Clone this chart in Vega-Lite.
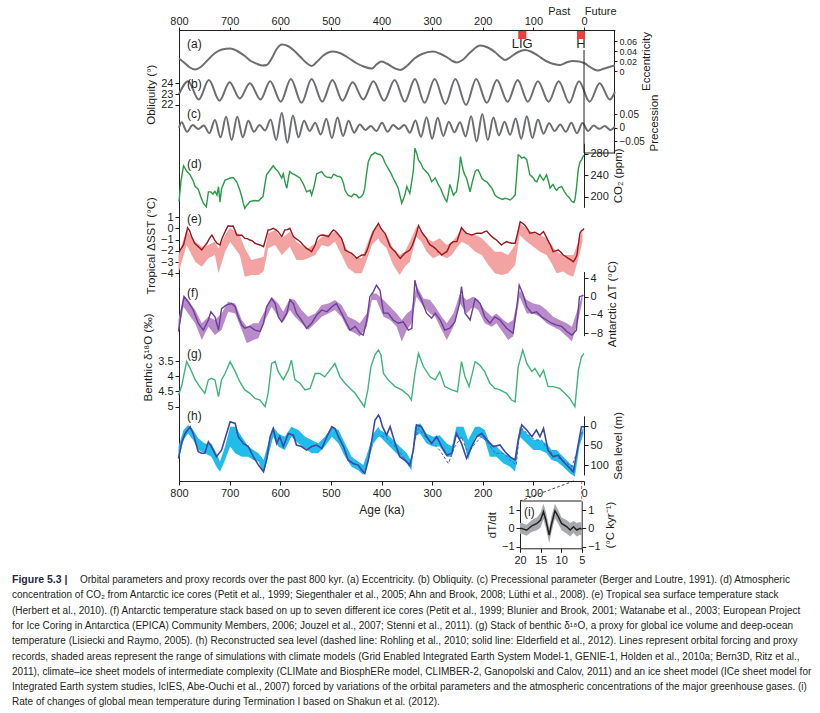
{
"$schema":"https://vega.github.io/schema/vega-lite/v6.json",
"width":405,"height":451,
"padding":{"left":179,"top":30,"right":236,"bottom":232},
"autosize":{"type":"none"},
"background":"white",
"config":{"view":{"stroke":null},"font":"Liberation Sans",
 "axis":{"labelFont":"Liberation Sans","titleFont":"Liberation Sans","labelFontSize":11,"titleFontSize":11.5,"titleFontWeight":"normal","labelColor":"#231f20","titleColor":"#231f20","domainColor":"#231f20","tickColor":"#231f20","grid":false,"tickSize":4,"labelPadding":2,"titlePadding":4,"labelFlush":false,"labelOverlap":false}},
"datasets":{
"captionHead":[{"t":"Figure 5.3 |","line":1}],
"captionFirst":[{"t":"Orbital parameters and proxy records over the past 800 kyr. (a) Eccentricity. (b) Obliquity. (c) Precessional parameter (Berger and Loutre, 1991). (d) Atmospheric","line":1}],
"caption":[
{"line":2,"t":"concentration of CO₂ from Antarctic ice cores (Petit et al., 1999; Siegenthaler et al., 2005; Ahn and Brook, 2008; Lüthi et al., 2008). (e) Tropical sea surface temperature stack"},
{"line":3,"t":"(Herbert et al., 2010). (f) Antarctic temperature stack based on up to seven different ice cores (Petit et al., 1999; Blunier and Brook, 2001; Watanabe et al., 2003; European Project"},
{"line":4,"t":"for Ice Coring in Antarctica (EPICA) Community Members, 2006; Jouzel et al., 2007; Stenni et al., 2011). (g) Stack of benthic δ¹⁸O, a proxy for global ice volume and deep-ocean"},
{"line":5,"t":"temperature (Lisiecki and Raymo, 2005). (h) Reconstructed sea level (dashed line: Rohling et al., 2010; solid line: Elderfield et al., 2012). Lines represent orbital forcing and proxy"},
{"line":6,"t":"records, shaded areas represent the range of simulations with climate models (Grid Enabled Integrated Earth System Model-1, GENIE-1, Holden et al., 2010a; Bern3D, Ritz et al.,"},
{"line":7,"t":"2011), climate–ice sheet models of intermediate complexity (CLIMate and BiosphERe model, CLIMBER-2, Ganopolski and Calov, 2011) and an ice sheet model (ICe sheet model for"},
{"line":8,"t":"Integrated Earth system studies, IcIES, Abe-Ouchi et al., 2007) forced by variations of the orbital parameters and the atmospheric concentrations of the major greenhouse gases. (i)"},
{"line":9,"t":"Rate of changes of global mean temperature during Termination I based on Shakun et al. (2012)."}],
"ecc":[{"age":800,"v":0.025},{"age":790,"v":0.017},{"age":780,"v":0.008},{"age":768,"v":0.003},{"age":757,"v":0.008},{"age":745,"v":0.02},{"age":730,"v":0.035},{"age":715,"v":0.043},{"age":699,"v":0.045},{"age":685,"v":0.04},{"age":670,"v":0.03},{"age":658,"v":0.02},{"age":645,"v":0.014},{"age":635,"v":0.011},{"age":627,"v":0.012},{"age":617,"v":0.025},{"age":607,"v":0.044},{"age":597,"v":0.053},{"age":585,"v":0.05},{"age":572,"v":0.04},{"age":560,"v":0.028},{"age":548,"v":0.016},{"age":538,"v":0.01},{"age":528,"v":0.018},{"age":515,"v":0.031},{"age":496,"v":0.039},{"age":480,"v":0.035},{"age":465,"v":0.026},{"age":450,"v":0.016},{"age":435,"v":0.009},{"age":419,"v":0.005},{"age":409,"v":0.014},{"age":400,"v":0.019},{"age":390,"v":0.015},{"age":375,"v":0.006},{"age":363,"v":0.002},{"age":350,"v":0.01},{"age":335,"v":0.025},{"age":320,"v":0.034},{"age":298,"v":0.039},{"age":285,"v":0.035},{"age":270,"v":0.027},{"age":260,"v":0.02},{"age":251,"v":0.017},{"age":240,"v":0.022},{"age":225,"v":0.037},{"age":205,"v":0.051},{"age":190,"v":0.047},{"age":175,"v":0.037},{"age":165,"v":0.028},{"age":156,"v":0.022},{"age":145,"v":0.028},{"age":130,"v":0.038},{"age":117,"v":0.042},{"age":105,"v":0.039},{"age":90,"v":0.03},{"age":75,"v":0.02},{"age":60,"v":0.014},{"age":47,"v":0.012},{"age":35,"v":0.017},{"age":22,"v":0.02},{"age":10,"v":0.019},{"age":0,"v":0.016},{"age":-12,"v":0.008},{"age":-27,"v":0.001},{"age":-40,"v":0.005},{"age":-50,"v":0.008},{"age":-61,"v":0.011}],
"obl":[{"age":800,"v":23.0},{"age":782,"v":24.2},{"age":761,"v":22.5},{"age":741,"v":24.3},{"age":720,"v":22.4},{"age":700,"v":24.1},{"age":680,"v":22.6},{"age":660,"v":24.0},{"age":639,"v":22.5},{"age":620,"v":24.2},{"age":599,"v":22.3},{"age":579,"v":24.4},{"age":558,"v":22.2},{"age":538,"v":24.4},{"age":517,"v":22.3},{"age":497,"v":24.3},{"age":477,"v":22.4},{"age":457,"v":24.1},{"age":436,"v":22.5},{"age":416,"v":24.2},{"age":395,"v":22.4},{"age":374,"v":24.3},{"age":354,"v":22.3},{"age":334,"v":24.4},{"age":315,"v":22.2},{"age":295,"v":24.4},{"age":274,"v":22.1},{"age":254,"v":24.4},{"age":233,"v":22.0},{"age":213,"v":24.4},{"age":192,"v":22.2},{"age":172,"v":24.3},{"age":151,"v":22.3},{"age":131,"v":24.3},{"age":111,"v":22.3},{"age":91,"v":24.2},{"age":70,"v":22.3},{"age":50,"v":24.2},{"age":29,"v":22.2},{"age":10,"v":24.2},{"age":-11,"v":22.3},{"age":-31,"v":24.0},{"age":-51,"v":22.5},{"age":-61,"v":23.2}],
"prec":[{"age":800,"v":0.0},{"age":795,"v":0.02},{"age":784,"v":-0.015},{"age":773,"v":0.01},{"age":762,"v":-0.005},{"age":751,"v":0.008},{"age":740,"v":-0.02},{"age":729,"v":0.028},{"age":718,"v":-0.035},{"age":707,"v":0.04},{"age":696,"v":-0.045},{"age":685,"v":0.04},{"age":674,"v":-0.035},{"age":663,"v":0.025},{"age":652,"v":-0.015},{"age":641,"v":0.01},{"age":630,"v":-0.01},{"age":619,"v":0.03},{"age":608,"v":-0.045},{"age":597,"v":0.055},{"age":586,"v":-0.055},{"age":575,"v":0.045},{"age":564,"v":-0.035},{"age":553,"v":0.025},{"age":542,"v":-0.012},{"age":531,"v":0.018},{"age":520,"v":-0.025},{"age":509,"v":0.033},{"age":498,"v":-0.038},{"age":487,"v":0.037},{"age":476,"v":-0.03},{"age":465,"v":0.025},{"age":454,"v":-0.018},{"age":443,"v":0.012},{"age":432,"v":-0.008},{"age":421,"v":0.006},{"age":410,"v":-0.012},{"age":399,"v":0.018},{"age":388,"v":-0.015},{"age":377,"v":0.01},{"age":366,"v":-0.005},{"age":355,"v":0.01},{"age":344,"v":-0.018},{"age":333,"v":0.026},{"age":322,"v":-0.033},{"age":311,"v":0.038},{"age":300,"v":-0.04},{"age":289,"v":0.036},{"age":278,"v":-0.03},{"age":267,"v":0.022},{"age":256,"v":-0.017},{"age":245,"v":0.02},{"age":234,"v":-0.032},{"age":223,"v":0.042},{"age":212,"v":-0.05},{"age":201,"v":0.05},{"age":190,"v":-0.045},{"age":179,"v":0.037},{"age":168,"v":-0.028},{"age":157,"v":0.022},{"age":146,"v":-0.026},{"age":135,"v":0.034},{"age":124,"v":-0.04},{"age":113,"v":0.042},{"age":102,"v":-0.038},{"age":91,"v":0.03},{"age":80,"v":-0.022},{"age":69,"v":0.016},{"age":58,"v":-0.012},{"age":47,"v":0.012},{"age":36,"v":-0.015},{"age":25,"v":0.018},{"age":14,"v":-0.02},{"age":3,"v":0.017},{"age":-8,"v":-0.012},{"age":-19,"v":0.008},{"age":-30,"v":-0.004},{"age":-41,"v":0.006},{"age":-52,"v":-0.008},{"age":-61,"v":0.005}],
"co2":[{"age":800,"v":191},{"age":796,"v":230},{"age":791,"v":258},{"age":785,"v":248},{"age":778,"v":241},{"age":772,"v":230},{"age":768,"v":219},{"age":762,"v":214},{"age":757,"v":200},{"age":752,"v":188},{"age":746,"v":181},{"age":742,"v":209},{"age":737,"v":209},{"age":733,"v":205},{"age":729,"v":210},{"age":725,"v":203},{"age":722,"v":219},{"age":719,"v":190},{"age":716,"v":215},{"age":709,"v":231},{"age":704,"v":233},{"age":699,"v":235},{"age":693,"v":236},{"age":686,"v":228},{"age":680,"v":213},{"age":676,"v":200},{"age":673,"v":188},{"age":670,"v":178},{"age":665,"v":185},{"age":660,"v":191},{"age":652,"v":193},{"age":643,"v":192},{"age":638,"v":197},{"age":634,"v":200},{"age":630,"v":225},{"age":627,"v":241},{"age":620,"v":250},{"age":614,"v":258},{"age":609,"v":252},{"age":604,"v":247},{"age":597,"v":235},{"age":594,"v":243},{"age":590,"v":225},{"age":587,"v":216},{"age":583,"v":240},{"age":581,"v":247},{"age":576,"v":243},{"age":571,"v":241},{"age":566,"v":238},{"age":561,"v":235},{"age":557,"v":228},{"age":554,"v":223},{"age":550,"v":214},{"age":548,"v":209},{"age":541,"v":212},{"age":538,"v":203},{"age":533,"v":220},{"age":528,"v":243},{"age":523,"v":245},{"age":518,"v":247},{"age":513,"v":240},{"age":509,"v":237},{"age":503,"v":236},{"age":499,"v":235},{"age":495,"v":242},{"age":492,"v":241},{"age":487,"v":238},{"age":483,"v":238},{"age":479,"v":235},{"age":475,"v":225},{"age":472,"v":212},{"age":469,"v":207},{"age":466,"v":203},{"age":462,"v":201},{"age":459,"v":200},{"age":455,"v":205},{"age":449,"v":203},{"age":445,"v":198},{"age":440,"v":200},{"age":436,"v":205},{"age":433,"v":216},{"age":430,"v":240},{"age":426,"v":266},{"age":420,"v":278},{"age":416,"v":280},{"age":413,"v":283},{"age":408,"v":280},{"age":403,"v":279},{"age":398,"v":275},{"age":393,"v":263},{"age":387,"v":253},{"age":382,"v":245},{"age":377,"v":235},{"age":372,"v":226},{"age":367,"v":216},{"age":363,"v":200},{"age":360,"v":188},{"age":357,"v":195},{"age":354,"v":203},{"age":350,"v":219},{"age":347,"v":212},{"age":344,"v":206},{"age":340,"v":230},{"age":337,"v":250},{"age":334,"v":291},{"age":330,"v":280},{"age":327,"v":269},{"age":322,"v":262},{"age":318,"v":253},{"age":313,"v":248},{"age":308,"v":243},{"age":304,"v":236},{"age":301,"v":228},{"age":297,"v":232},{"age":294,"v":235},{"age":291,"v":230},{"age":288,"v":223},{"age":283,"v":215},{"age":278,"v":203},{"age":274,"v":195},{"age":271,"v":191},{"age":268,"v":205},{"age":265,"v":223},{"age":262,"v":215},{"age":258,"v":203},{"age":255,"v":207},{"age":252,"v":209},{"age":247,"v":240},{"age":244,"v":275},{"age":241,"v":260},{"age":238,"v":247},{"age":235,"v":240},{"age":232,"v":235},{"age":228,"v":220},{"age":225,"v":209},{"age":220,"v":230},{"age":215,"v":247},{"age":212,"v":250},{"age":209,"v":250},{"age":205,"v":242},{"age":202,"v":235},{"age":197,"v":230},{"age":192,"v":228},{"age":187,"v":222},{"age":182,"v":216},{"age":179,"v":210},{"age":176,"v":203},{"age":171,"v":199},{"age":166,"v":197},{"age":161,"v":195},{"age":156,"v":197},{"age":151,"v":196},{"age":146,"v":194},{"age":141,"v":198},{"age":136,"v":203},{"age":133,"v":240},{"age":130,"v":278},{"age":127,"v":277},{"age":123,"v":272},{"age":118,"v":274},{"age":113,"v":269},{"age":110,"v":255},{"age":107,"v":241},{"age":103,"v":238},{"age":100,"v":235},{"age":97,"v":230},{"age":93,"v":228},{"age":90,"v":235},{"age":87,"v":241},{"age":84,"v":236},{"age":80,"v":231},{"age":77,"v":236},{"age":74,"v":241},{"age":70,"v":228},{"age":67,"v":216},{"age":64,"v":220},{"age":61,"v":223},{"age":57,"v":215},{"age":54,"v":212},{"age":50,"v":217},{"age":44,"v":219},{"age":39,"v":210},{"age":34,"v":203},{"age":29,"v":198},{"age":24,"v":191},{"age":20,"v":189},{"age":18,"v":194},{"age":15,"v":215},{"age":12,"v":245},{"age":11,"v":253},{"age":8,"v":265},{"age":5,"v":269},{"age":2,"v":275},{"age":0,"v":278}],
"sst":[{"age":800,"v":-2.1},{"age":796,"v":-1.8},{"age":791,"v":-1.47},{"age":786,"v":-0.5},{"age":783,"v":0.07},{"age":779,"v":-0.2},{"age":775,"v":-0.73},{"age":769,"v":-1.32},{"age":762,"v":-1.6},{"age":755,"v":-1.92},{"age":750,"v":-1.6},{"age":745,"v":-1.32},{"age":740,"v":-0.9},{"age":735,"v":-0.58},{"age":730,"v":-1.0},{"age":725,"v":-1.32},{"age":719,"v":-1.47},{"age":716,"v":-1.0},{"age":712,"v":-0.58},{"age":707,"v":-0.1},{"age":703,"v":0.25},{"age":697,"v":0.2},{"age":693,"v":0.22},{"age":690,"v":-0.1},{"age":686,"v":-0.58},{"age":680,"v":-0.6},{"age":676,"v":-0.58},{"age":670,"v":-0.88},{"age":665,"v":-0.9},{"age":660,"v":-1.03},{"age":655,"v":-1.1},{"age":650,"v":-1.32},{"age":645,"v":-1.4},{"age":640,"v":-1.47},{"age":633,"v":-1.62},{"age":628,"v":-0.8},{"age":624,"v":-0.13},{"age":619,"v":-0.1},{"age":614,"v":0.02},{"age":609,"v":-0.1},{"age":604,"v":-0.28},{"age":597,"v":-0.73},{"age":591,"v":-0.13},{"age":586,"v":-0.1},{"age":581,"v":0.02},{"age":578,"v":-0.3},{"age":574,"v":-0.73},{"age":569,"v":-0.9},{"age":565,"v":-1.03},{"age":560,"v":-1.2},{"age":555,"v":-1.47},{"age":548,"v":-1.77},{"age":543,"v":-1.9},{"age":538,"v":-2.07},{"age":535,"v":-1.8},{"age":531,"v":-1.47},{"age":528,"v":-1.0},{"age":525,"v":-0.73},{"age":520,"v":-0.6},{"age":515,"v":-0.58},{"age":510,"v":-0.65},{"age":505,"v":-0.73},{"age":500,"v":-0.4},{"age":495,"v":-0.13},{"age":492,"v":-0.2},{"age":489,"v":-0.33},{"age":484,"v":-0.6},{"age":479,"v":-0.88},{"age":475,"v":-1.4},{"age":472,"v":-1.92},{"age":466,"v":-2.07},{"age":459,"v":-2.22},{"age":454,"v":-2.4},{"age":449,"v":-2.67},{"age":444,"v":-2.5},{"age":439,"v":-2.37},{"age":433,"v":-2.37},{"age":429,"v":-2.0},{"age":426,"v":-1.62},{"age":421,"v":-0.9},{"age":416,"v":-0.28},{"age":411,"v":0.1},{"age":406,"v":0.46},{"age":401,"v":0.0},{"age":396,"v":-0.28},{"age":393,"v":-0.43},{"age":388,"v":-1.0},{"age":383,"v":-1.62},{"age":378,"v":-1.85},{"age":373,"v":-2.07},{"age":368,"v":-2.4},{"age":363,"v":-2.67},{"age":358,"v":-2.4},{"age":354,"v":-2.22},{"age":349,"v":-2.07},{"age":344,"v":-1.92},{"age":339,"v":-1.5},{"age":334,"v":-0.88},{"age":330,"v":-0.3},{"age":327,"v":0.25},{"age":324,"v":0.0},{"age":321,"v":-0.28},{"age":316,"v":-0.6},{"age":311,"v":-0.88},{"age":308,"v":-1.2},{"age":304,"v":-1.47},{"age":299,"v":-1.6},{"age":294,"v":-1.77},{"age":291,"v":-1.9},{"age":288,"v":-2.07},{"age":284,"v":-2.2},{"age":281,"v":-2.37},{"age":276,"v":-2.2},{"age":271,"v":-2.07},{"age":268,"v":-1.8},{"age":265,"v":-1.47},{"age":262,"v":-1.3},{"age":258,"v":-1.17},{"age":251,"v":-1.17},{"age":247,"v":-0.6},{"age":242,"v":0.07},{"age":237,"v":-0.2},{"age":232,"v":-0.43},{"age":227,"v":-0.5},{"age":222,"v":-0.58},{"age":217,"v":-0.5},{"age":212,"v":-0.43},{"age":207,"v":-0.43},{"age":202,"v":-0.43},{"age":197,"v":-0.3},{"age":192,"v":-0.22},{"age":187,"v":-0.5},{"age":182,"v":-0.73},{"age":177,"v":-0.9},{"age":173,"v":-1.03},{"age":168,"v":-1.25},{"age":163,"v":-1.47},{"age":158,"v":-1.3},{"age":153,"v":-1.17},{"age":148,"v":-1.25},{"age":143,"v":-1.32},{"age":136,"v":-1.32},{"age":131,"v":-0.4},{"age":126,"v":0.61},{"age":121,"v":0.45},{"age":117,"v":0.31},{"age":112,"v":0.0},{"age":107,"v":-0.43},{"age":102,"v":-0.38},{"age":97,"v":-0.33},{"age":92,"v":-0.45},{"age":87,"v":-0.58},{"age":83,"v":-0.4},{"age":80,"v":-0.28},{"age":75,"v":-0.7},{"age":70,"v":-1.17},{"age":65,"v":-1.6},{"age":61,"v":-2.07},{"age":56,"v":-2.0},{"age":51,"v":-1.92},{"age":46,"v":-2.1},{"age":41,"v":-2.37},{"age":36,"v":-2.5},{"age":31,"v":-2.67},{"age":26,"v":-2.8},{"age":21,"v":-2.97},{"age":17,"v":-2.7},{"age":14,"v":-2.37},{"age":11,"v":-1.4},{"age":8,"v":-0.43},{"age":5,"v":-0.2},{"age":2,"v":-0.13},{"age":0,"v":0.0}],
"sstBand":[{"age":801,"hi":-2.37,"lo":-4.0},{"age":785,"hi":-0.13,"lo":-1.47},{"age":768,"hi":-1.18,"lo":-2.96},{"age":755,"hi":-1.62,"lo":-3.41},{"age":742,"hi":-1.47,"lo":-2.66},{"age":729,"hi":-1.18,"lo":-2.37},{"age":722,"hi":-1.77,"lo":-4.0},{"age":709,"hi":-0.58,"lo":-2.07},{"age":699,"hi":0.07,"lo":-1.18},{"age":680,"hi":-0.58,"lo":-2.37},{"age":670,"hi":-1.77,"lo":-4.3},{"age":657,"hi":-2.81,"lo":-4.15},{"age":643,"hi":-2.66,"lo":-4.15},{"age":633,"hi":-2.52,"lo":-3.85},{"age":624,"hi":-0.43,"lo":-1.77},{"age":610,"hi":-0.13,"lo":-1.47},{"age":597,"hi":-0.88,"lo":-2.37},{"age":581,"hi":-0.28,"lo":-1.62},{"age":568,"hi":-1.18,"lo":-2.81},{"age":554,"hi":-1.62,"lo":-2.81},{"age":545,"hi":-1.77,"lo":-2.66},{"age":531,"hi":-1.32,"lo":-2.37},{"age":518,"hi":-0.73,"lo":-1.47},{"age":505,"hi":-0.58,"lo":-1.62},{"age":492,"hi":-0.28,"lo":-1.18},{"age":479,"hi":-0.88,"lo":-2.37},{"age":466,"hi":-2.07,"lo":-3.56},{"age":452,"hi":-2.52,"lo":-4.0},{"age":439,"hi":-2.66,"lo":-4.0},{"age":429,"hi":-1.47,"lo":-2.81},{"age":419,"hi":-0.28,"lo":-1.47},{"age":406,"hi":0.31,"lo":-0.88},{"age":403,"hi":0.0,"lo":-1.18},{"age":390,"hi":-0.58,"lo":-1.77},{"age":377,"hi":-1.77,"lo":-3.26},{"age":364,"hi":-2.37,"lo":-4.15},{"age":354,"hi":-2.07,"lo":-3.41},{"age":344,"hi":-1.18,"lo":-2.96},{"age":331,"hi":0.16,"lo":-0.73},{"age":321,"hi":-0.28,"lo":-1.18},{"age":311,"hi":-0.88,"lo":-2.07},{"age":298,"hi":-1.18,"lo":-2.66},{"age":285,"hi":-0.88,"lo":-2.37},{"age":271,"hi":-1.47,"lo":-2.66},{"age":261,"hi":-1.18,"lo":-2.37},{"age":252,"hi":-0.73,"lo":-1.77},{"age":242,"hi":0.0,"lo":-1.18},{"age":229,"hi":-0.58,"lo":-1.47},{"age":215,"hi":-0.58,"lo":-2.07},{"age":202,"hi":-0.88,"lo":-2.37},{"age":189,"hi":-1.47,"lo":-3.26},{"age":176,"hi":-2.07,"lo":-4.0},{"age":163,"hi":-2.07,"lo":-4.15},{"age":150,"hi":-2.37,"lo":-4.0},{"age":136,"hi":-1.47,"lo":-3.26},{"age":127,"hi":0.46,"lo":-0.58},{"age":113,"hi":0.0,"lo":-1.18},{"age":100,"hi":-0.43,"lo":-1.62},{"age":87,"hi":-0.58,"lo":-2.07},{"age":74,"hi":-0.88,"lo":-2.37},{"age":64,"hi":-1.47,"lo":-3.11},{"age":54,"hi":-2.07,"lo":-4.0},{"age":41,"hi":-2.37,"lo":-3.85},{"age":31,"hi":-2.37,"lo":-4.15},{"age":21,"hi":-2.37,"lo":-4.3},{"age":11,"hi":-1.18,"lo":-2.66},{"age":3,"hi":-0.13,"lo":-1.18}],
"ant":[{"age":801,"v":-7.6},{"age":795,"v":-2.9},{"age":790,"v":0.0},{"age":782,"v":-1.1},{"age":772,"v":-2.9},{"age":762,"v":-5.8},{"age":752,"v":-7.3},{"age":742,"v":-5.1},{"age":737,"v":-3.3},{"age":729,"v":-4.4},{"age":722,"v":-7.3},{"age":716,"v":-2.6},{"age":706,"v":-1.8},{"age":696,"v":-1.5},{"age":689,"v":-2.2},{"age":683,"v":-4.4},{"age":676,"v":-6.2},{"age":670,"v":-6.9},{"age":660,"v":-6.5},{"age":650,"v":-7.3},{"age":640,"v":-7.6},{"age":633,"v":-5.8},{"age":627,"v":-2.2},{"age":617,"v":-0.4},{"age":610,"v":-1.5},{"age":604,"v":-4.4},{"age":597,"v":-5.5},{"age":587,"v":-3.6},{"age":581,"v":-0.7},{"age":574,"v":-1.5},{"age":568,"v":-3.6},{"age":558,"v":-5.1},{"age":548,"v":-6.9},{"age":538,"v":-5.8},{"age":528,"v":-4.0},{"age":518,"v":-2.9},{"age":508,"v":-3.3},{"age":498,"v":-2.2},{"age":489,"v":-1.5},{"age":479,"v":-3.6},{"age":469,"v":-5.8},{"age":462,"v":-7.3},{"age":452,"v":-6.5},{"age":442,"v":-8.0},{"age":436,"v":-8.4},{"age":429,"v":-5.1},{"age":423,"v":0.0},{"age":416,"v":1.1},{"age":410,"v":2.5},{"age":403,"v":1.4},{"age":396,"v":-3.6},{"age":387,"v":-3.6},{"age":377,"v":-5.1},{"age":367,"v":-5.8},{"age":357,"v":-5.5},{"age":347,"v":-7.3},{"age":340,"v":-6.9},{"age":334,"v":3.6},{"age":329,"v":1.1},{"age":321,"v":-0.7},{"age":311,"v":-3.6},{"age":301,"v":-4.7},{"age":294,"v":-3.6},{"age":284,"v":-5.1},{"age":275,"v":-7.3},{"age":265,"v":-6.9},{"age":255,"v":-5.5},{"age":246,"v":-1.5},{"age":242,"v":2.2},{"age":235,"v":-3.6},{"age":225,"v":-5.1},{"age":215,"v":-0.4},{"age":205,"v":-1.5},{"age":196,"v":-4.4},{"age":186,"v":-5.8},{"age":176,"v":-4.4},{"age":166,"v":-5.1},{"age":153,"v":-6.9},{"age":140,"v":-8.0},{"age":132,"v":-1.5},{"age":128,"v":2.5},{"age":121,"v":0.7},{"age":113,"v":-2.2},{"age":103,"v":-3.6},{"age":94,"v":-3.3},{"age":84,"v":-4.4},{"age":74,"v":-5.1},{"age":64,"v":-5.8},{"age":54,"v":-6.2},{"age":44,"v":-6.5},{"age":34,"v":-7.6},{"age":24,"v":-8.4},{"age":15,"v":-7.3},{"age":9,"v":0.0},{"age":1,"v":0.3}],
"antBand":[{"age":801,"hi":-5.1,"lo":-8.0},{"age":791,"hi":0.34,"lo":-2.2},{"age":782,"hi":-0.75,"lo":-3.65},{"age":768,"hi":-2.92,"lo":-5.82},{"age":755,"hi":-5.82,"lo":-9.44},{"age":742,"hi":-4.37,"lo":-6.54},{"age":729,"hi":-5.1,"lo":-8.36},{"age":716,"hi":-3.65,"lo":-7.27},{"age":703,"hi":-1.11,"lo":-3.28},{"age":689,"hi":-1.47,"lo":-3.65},{"age":676,"hi":-5.1,"lo":-7.27},{"age":666,"hi":-6.54,"lo":-10.17},{"age":653,"hi":-5.82,"lo":-9.44},{"age":643,"hi":-5.82,"lo":-9.08},{"age":630,"hi":-2.92,"lo":-5.1},{"age":617,"hi":-0.02,"lo":-2.2},{"age":604,"hi":-1.47,"lo":-4.37},{"age":594,"hi":-3.28,"lo":-5.46},{"age":581,"hi":-0.39,"lo":-2.92},{"age":571,"hi":-0.75,"lo":-4.37},{"age":558,"hi":-2.92,"lo":-5.82},{"age":545,"hi":-4.37,"lo":-7.27},{"age":531,"hi":-3.65,"lo":-5.82},{"age":518,"hi":-1.83,"lo":-4.37},{"age":505,"hi":-1.47,"lo":-3.65},{"age":492,"hi":-0.75,"lo":-2.92},{"age":479,"hi":-1.83,"lo":-4.37},{"age":466,"hi":-4.37,"lo":-7.27},{"age":452,"hi":-5.1,"lo":-8.0},{"age":443,"hi":-5.82,"lo":-8.72},{"age":429,"hi":-3.65,"lo":-6.54},{"age":419,"hi":0.7,"lo":-0.75},{"age":410,"hi":0.7,"lo":-0.75},{"age":396,"hi":-0.75,"lo":-4.37},{"age":383,"hi":-2.2,"lo":-5.1},{"age":370,"hi":-3.65,"lo":-6.54},{"age":360,"hi":-5.1,"lo":-9.81},{"age":350,"hi":-3.65,"lo":-7.27},{"age":341,"hi":-2.92,"lo":-5.82},{"age":331,"hi":2.51,"lo":-0.02},{"age":317,"hi":-0.39,"lo":-2.2},{"age":304,"hi":-0.75,"lo":-3.65},{"age":294,"hi":-2.2,"lo":-4.37},{"age":281,"hi":-4.37,"lo":-7.27},{"age":271,"hi":-5.82,"lo":-9.44},{"age":258,"hi":-3.65,"lo":-6.54},{"age":245,"hi":0.7,"lo":-1.47},{"age":232,"hi":-0.75,"lo":-3.65},{"age":219,"hi":-0.02,"lo":-2.2},{"age":209,"hi":-0.75,"lo":-2.92},{"age":196,"hi":-2.92,"lo":-5.82},{"age":182,"hi":-4.37,"lo":-6.54},{"age":173,"hi":-3.65,"lo":-5.82},{"age":159,"hi":-5.1,"lo":-8.0},{"age":150,"hi":-5.82,"lo":-9.44},{"age":140,"hi":-5.1,"lo":-8.72},{"age":127,"hi":1.43,"lo":-0.02},{"age":113,"hi":-0.75,"lo":-3.65},{"age":100,"hi":-1.47,"lo":-3.65},{"age":87,"hi":-1.83,"lo":-4.37},{"age":74,"hi":-2.92,"lo":-5.82},{"age":61,"hi":-4.37,"lo":-6.54},{"age":48,"hi":-5.1,"lo":-7.27},{"age":34,"hi":-5.82,"lo":-8.72},{"age":24,"hi":-6.54,"lo":-9.81},{"age":11,"hi":-2.2,"lo":-5.1},{"age":3,"hi":0.7,"lo":-0.75}],
"d18o":[{"age":801,"v":4.62},{"age":795,"v":4.34},{"age":785,"v":3.52},{"age":778,"v":3.74},{"age":768,"v":4.12},{"age":759,"v":4.34},{"age":749,"v":4.56},{"age":742,"v":4.12},{"age":736,"v":4.07},{"age":729,"v":4.12},{"age":722,"v":4.67},{"age":716,"v":4.12},{"age":709,"v":3.91},{"age":699,"v":3.52},{"age":689,"v":3.85},{"age":680,"v":4.18},{"age":670,"v":4.45},{"age":660,"v":4.56},{"age":650,"v":4.73},{"age":640,"v":4.78},{"age":630,"v":5.0},{"age":624,"v":4.56},{"age":617,"v":3.58},{"age":610,"v":3.52},{"age":604,"v":3.85},{"age":594,"v":4.12},{"age":584,"v":3.8},{"age":578,"v":3.47},{"age":571,"v":4.12},{"age":561,"v":4.23},{"age":551,"v":4.45},{"age":541,"v":4.4},{"age":531,"v":3.91},{"age":522,"v":3.91},{"age":512,"v":4.02},{"age":502,"v":3.8},{"age":492,"v":3.58},{"age":482,"v":4.02},{"age":472,"v":4.23},{"age":462,"v":4.4},{"age":452,"v":4.56},{"age":443,"v":4.78},{"age":434,"v":5.0},{"age":427,"v":4.45},{"age":421,"v":3.69},{"age":413,"v":3.3},{"age":406,"v":3.14},{"age":401,"v":3.3},{"age":396,"v":3.91},{"age":387,"v":4.12},{"age":373,"v":4.34},{"age":360,"v":4.45},{"age":347,"v":4.62},{"age":341,"v":4.78},{"age":334,"v":3.91},{"age":327,"v":3.25},{"age":317,"v":3.69},{"age":304,"v":4.02},{"age":294,"v":4.12},{"age":285,"v":3.85},{"age":275,"v":4.34},{"age":261,"v":4.45},{"age":250,"v":4.51},{"age":242,"v":3.52},{"age":235,"v":4.02},{"age":227,"v":4.34},{"age":215,"v":3.52},{"age":206,"v":3.63},{"age":196,"v":3.85},{"age":186,"v":4.23},{"age":176,"v":4.4},{"age":166,"v":4.45},{"age":153,"v":4.56},{"age":143,"v":4.78},{"age":136,"v":4.84},{"age":130,"v":3.69},{"age":121,"v":3.14},{"age":113,"v":3.58},{"age":103,"v":3.85},{"age":97,"v":3.74},{"age":87,"v":4.02},{"age":80,"v":3.8},{"age":71,"v":4.34},{"age":61,"v":4.34},{"age":48,"v":4.4},{"age":38,"v":4.56},{"age":28,"v":4.73},{"age":18,"v":5.0},{"age":11,"v":3.8},{"age":5,"v":3.36},{"age":0,"v":3.25}],
"sl":[{"age":801,"v":83},{"age":795,"v":45},{"age":788,"v":19.5},{"age":778,"v":2.5},{"age":772,"v":19.5},{"age":762,"v":66},{"age":755,"v":70},{"age":749,"v":70},{"age":742,"v":41},{"age":736,"v":53},{"age":726,"v":79},{"age":716,"v":62},{"age":706,"v":19.5},{"age":699,"v":-10},{"age":689,"v":-6},{"age":683,"v":28},{"age":673,"v":45},{"age":663,"v":53},{"age":653,"v":79},{"age":643,"v":100},{"age":633,"v":117},{"age":627,"v":87},{"age":620,"v":28},{"age":614,"v":7},{"age":607,"v":45},{"age":601,"v":28},{"age":594,"v":53},{"age":584,"v":19.5},{"age":574,"v":24},{"age":568,"v":49},{"age":558,"v":53},{"age":548,"v":62},{"age":538,"v":53},{"age":528,"v":49},{"age":518,"v":58},{"age":508,"v":28},{"age":498,"v":2.5},{"age":492,"v":7},{"age":485,"v":28},{"age":475,"v":53},{"age":466,"v":87},{"age":456,"v":96},{"age":446,"v":100},{"age":439,"v":113},{"age":433,"v":121},{"age":426,"v":87},{"age":419,"v":36},{"age":413,"v":-14},{"age":406,"v":-27},{"age":403,"v":-20},{"age":398,"v":2.5},{"age":390,"v":24},{"age":383,"v":2.5},{"age":373,"v":45},{"age":364,"v":79},{"age":354,"v":87},{"age":344,"v":100},{"age":337,"v":62},{"age":331,"v":-2},{"age":321,"v":2.5},{"age":311,"v":28},{"age":301,"v":45},{"age":291,"v":28},{"age":281,"v":53},{"age":271,"v":75},{"age":261,"v":70},{"age":252,"v":19.5},{"age":242,"v":45},{"age":232,"v":83},{"age":222,"v":53},{"age":212,"v":28},{"age":202,"v":19.5},{"age":192,"v":36},{"age":179,"v":53},{"age":166,"v":49},{"age":156,"v":66},{"age":146,"v":79},{"age":136,"v":87},{"age":130,"v":36},{"age":123,"v":-2},{"age":113,"v":11},{"age":103,"v":28},{"age":94,"v":11},{"age":87,"v":28},{"age":80,"v":7},{"age":71,"v":62},{"age":61,"v":79},{"age":51,"v":75},{"age":41,"v":91},{"age":31,"v":104},{"age":21,"v":117},{"age":11,"v":45},{"age":5,"v":2.5},{"age":0,"v":2.5}],
"slDash":[{"age":400,"v":25},{"age":390,"v":32},{"age":373,"v":53},{"age":357,"v":79},{"age":344,"v":104},{"age":334,"v":36},{"age":327,"v":7},{"age":314,"v":28},{"age":298,"v":45},{"age":285,"v":62},{"age":268,"v":96},{"age":255,"v":53},{"age":242,"v":28},{"age":229,"v":70},{"age":215,"v":45},{"age":202,"v":28},{"age":189,"v":45},{"age":176,"v":70},{"age":159,"v":70},{"age":143,"v":91},{"age":134,"v":100},{"age":128,"v":28},{"age":121,"v":7},{"age":110,"v":24},{"age":97,"v":36},{"age":84,"v":36},{"age":71,"v":62},{"age":54,"v":79},{"age":38,"v":91},{"age":24,"v":104},{"age":15,"v":70},{"age":8,"v":28},{"age":1,"v":11}],
"slBand":[{"age":801,"hi":53,"lo":87},{"age":791,"hi":11,"lo":36},{"age":782,"hi":-2,"lo":19.5},{"age":772,"hi":11,"lo":36},{"age":762,"hi":32,"lo":62},{"age":749,"hi":45,"lo":70},{"age":736,"hi":45,"lo":79},{"age":726,"hi":70,"lo":104},{"age":719,"hi":91,"lo":117},{"age":709,"hi":53,"lo":87},{"age":699,"hi":2.5,"lo":53},{"age":689,"hi":2.5,"lo":70},{"age":676,"hi":28,"lo":79},{"age":663,"hi":53,"lo":79},{"age":653,"hi":62,"lo":87},{"age":643,"hi":70,"lo":91},{"age":633,"hi":87,"lo":121},{"age":624,"hi":45,"lo":79},{"age":614,"hi":2.5,"lo":28},{"age":604,"hi":19.5,"lo":53},{"age":591,"hi":28,"lo":62},{"age":578,"hi":2.5,"lo":28},{"age":564,"hi":11,"lo":45},{"age":551,"hi":28,"lo":58},{"age":538,"hi":36,"lo":70},{"age":525,"hi":45,"lo":70},{"age":512,"hi":28,"lo":53},{"age":498,"hi":2.5,"lo":28},{"age":485,"hi":11,"lo":45},{"age":472,"hi":45,"lo":79},{"age":459,"hi":79,"lo":104},{"age":446,"hi":91,"lo":113},{"age":436,"hi":100,"lo":125},{"age":426,"hi":62,"lo":91},{"age":416,"hi":19.5,"lo":45},{"age":406,"hi":2.5,"lo":28},{"age":403,"hi":11,"lo":28},{"age":390,"hi":19.5,"lo":45},{"age":377,"hi":36,"lo":62},{"age":364,"hi":53,"lo":79},{"age":350,"hi":70,"lo":96},{"age":341,"hi":91,"lo":113},{"age":334,"hi":2.5,"lo":28},{"age":324,"hi":-6,"lo":19.5},{"age":311,"hi":19.5,"lo":45},{"age":298,"hi":28,"lo":53},{"age":285,"hi":24,"lo":53},{"age":271,"hi":45,"lo":79},{"age":261,"hi":53,"lo":79},{"age":252,"hi":2.5,"lo":28},{"age":238,"hi":2.5,"lo":36},{"age":229,"hi":36,"lo":87},{"age":215,"hi":2.5,"lo":28},{"age":206,"hi":2.5,"lo":28},{"age":196,"hi":11,"lo":36},{"age":186,"hi":45,"lo":79},{"age":173,"hi":53,"lo":79},{"age":159,"hi":70,"lo":96},{"age":146,"hi":79,"lo":104},{"age":136,"hi":87,"lo":117},{"age":127,"hi":2.5,"lo":28},{"age":113,"hi":19.5,"lo":45},{"age":100,"hi":36,"lo":62},{"age":87,"hi":36,"lo":62},{"age":74,"hi":45,"lo":70},{"age":64,"hi":62,"lo":87},{"age":54,"hi":62,"lo":91},{"age":41,"hi":79,"lo":104},{"age":28,"hi":96,"lo":121},{"age":18,"hi":104,"lo":130},{"age":9,"hi":28,"lo":53},{"age":1,"hi":2.5,"lo":19.5}],
"inset":[{"age":20,"v":0.0,"lo":-0.3,"hi":0.3},{"age":19.6,"v":0.0,"lo":-0.3,"hi":0.3},{"age":18.4,"v":-0.1,"lo":-0.4,"hi":0.2},{"age":17.2,"v":0.13,"lo":-0.2,"hi":0.45},{"age":15.9,"v":0.27,"lo":-0.1,"hi":0.6},{"age":15.0,"v":0.45,"lo":0.05,"hi":0.85},{"age":14.3,"v":0.91,"lo":0.5,"hi":1.35},{"age":13.7,"v":0.45,"lo":0.0,"hi":0.9},{"age":12.9,"v":-0.36,"lo":-0.8,"hi":0.05},{"age":12.3,"v":0.27,"lo":-0.15,"hi":0.7},{"age":11.5,"v":0.96,"lo":0.55,"hi":1.35},{"age":10.7,"v":0.64,"lo":0.25,"hi":1.0},{"age":9.9,"v":0.27,"lo":-0.1,"hi":0.6},{"age":8.6,"v":0.09,"lo":-0.3,"hi":0.45},{"age":7.8,"v":-0.09,"lo":-0.45,"hi":0.3},{"age":7.0,"v":0.09,"lo":-0.25,"hi":0.4},{"age":6.2,"v":-0.09,"lo":-0.45,"hi":0.3},{"age":5.4,"v":0.0,"lo":-0.35,"hi":0.35},{"age":5,"v":-0.05,"lo":-0.4,"hi":0.3}],
"periods":[{"period":"LIG","start":130,"end":114,"center":122},{"period":"H","start":14,"end":-2,"center":6}]
},
"layer":[
 {"data":{"name":"ecc"},"mark":{"type":"line","color":"#6d6e71","strokeWidth":2,"interpolate":"monotone"},
  "encoding":{"x":{"field":"age","type":"quantitative","scale":{"domain":[800,-61],"range":[0,435.9],"nice":false,"zero":false},"axis":{"orient":"top","values":[800,700,600,500,400,300,200,100,0],"title":null,"tickSize":3,"labelPadding":1}},
   "y":{"field":"v","type":"quantitative","scale":{"domain":[-0.042,0.082],"range":[62,0],"nice":false,"zero":false},"axis":{"orient":"right","offset":30,"values":[0,0.02,0.04,0.06],"labelFontSize":9,"tickSize":3,"labelExpr":"datum.value === 0 ? '0' : format(datum.value, '.2f')","title":"Eccentricity","titleAngle":270,"titleBaseline":"top"}}}},
 {"data":{"name":"periods"},"mark":{"type":"rect","color":"#ec4040"},
  "encoding":{"x":{"field":"start","type":"quantitative","scale":{"domain":[800,-61],"range":[0,435.9],"nice":false,"zero":false},"axis":null},"x2":{"field":"end"},
   "y":{"datum":0.08,"type":"quantitative","scale":{"domain":[-0.042,0.082],"range":[62,0],"nice":false,"zero":false},"axis":null},"y2":{"datum":0.064}}},
 {"data":{"name":"periods"},"mark":{"type":"text","fontSize":13,"baseline":"middle","align":"center","color":"#231f20"},
  "encoding":{"x":{"field":"center","type":"quantitative","scale":{"domain":[800,-61],"range":[0,435.9],"nice":false,"zero":false},"axis":null},
   "y":{"datum":0.054,"type":"quantitative","scale":{"domain":[-0.042,0.082],"range":[62,0],"nice":false,"zero":false},"axis":null},"text":{"field":"period"}}},
 {"data":{"values":[{"label":"(a)"}]},"mark":{"type":"text","fontSize":12,"baseline":"middle","align":"left","color":"#231f20"},
  "encoding":{"x":{"datum":784,"type":"quantitative","scale":{"domain":[800,-61],"range":[0,435.9],"nice":false,"zero":false},"axis":null},
   "y":{"datum":0.054,"type":"quantitative","scale":{"domain":[-0.042,0.082],"range":[62,0],"nice":false,"zero":false},"axis":null},"text":{"field":"label"}}},
 {"data":{"values":[{"label":"Past"}]},"mark":{"type":"text","fontSize":11,"baseline":"middle","align":"center","color":"#231f20"},
  "encoding":{"x":{"datum":49,"type":"quantitative","scale":{"domain":[800,-61],"range":[0,435.9],"nice":false,"zero":false},"axis":null},
   "y":{"datum":0.118,"type":"quantitative","scale":{"domain":[-0.042,0.082],"range":[62,0],"nice":false,"zero":false},"axis":null},"text":{"field":"label"}}},
 {"data":{"values":[{"label":"Future"}]},"mark":{"type":"text","fontSize":11,"baseline":"middle","align":"center","color":"#231f20"},
  "encoding":{"x":{"datum":-33,"type":"quantitative","scale":{"domain":[800,-61],"range":[0,435.9],"nice":false,"zero":false},"axis":null},
   "y":{"datum":0.118,"type":"quantitative","scale":{"domain":[-0.042,0.082],"range":[62,0],"nice":false,"zero":false},"axis":null},"text":{"field":"label"}}},
 {"data":{"name":"obl"},"mark":{"type":"line","color":"#6d6e71","strokeWidth":2,"interpolate":"monotone"},
  "encoding":{"x":{"field":"age","type":"quantitative","scale":{"domain":[800,-61],"range":[0,435.9],"nice":false,"zero":false},"axis":null},
   "y":{"field":"v","type":"quantitative","scale":{"domain":[21.5,24.5],"range":[80.4,47.9],"nice":false,"zero":false},"axis":{"orient":"left","values":[22,23,24],"domain":false,"title":"Obliquity (°)"}}}},
 {"data":{"values":[{"label":"(b)"}]},"mark":{"type":"text","fontSize":12,"baseline":"middle","align":"left","color":"#231f20"},
  "encoding":{"x":{"datum":784,"type":"quantitative","scale":{"domain":[800,-61],"range":[0,435.9],"nice":false,"zero":false},"axis":null},
   "y":{"datum":23.94,"type":"quantitative","scale":{"domain":[21.5,24.5],"range":[80.4,47.9],"nice":false,"zero":false},"axis":null},"text":{"field":"label"}}},
 {"data":{"name":"prec"},"mark":{"type":"line","color":"#6d6e71","strokeWidth":2,"interpolate":"monotone"},
  "encoding":{"x":{"field":"age","type":"quantitative","scale":{"domain":[800,-61],"range":[0,435.9],"nice":false,"zero":false},"axis":null},
   "y":{"field":"v","type":"quantitative","scale":{"domain":[-0.0923,0.1303],"range":[123,62],"nice":false,"zero":false},"axis":{"orient":"right","offset":30,"values":[-0.05,0,0.05],"labelFontSize":10,"tickSize":3,"labelExpr":"datum.value === 0 ? '0' : format(datum.value, '.2f')","title":"Precession","titleAngle":270,"titleBaseline":"top"}}}},
 {"data":{"values":[{"label":"(c)"}]},"mark":{"type":"text","fontSize":12,"baseline":"middle","align":"left","color":"#231f20"},
  "encoding":{"x":{"datum":784,"type":"quantitative","scale":{"domain":[800,-61],"range":[0,435.9],"nice":false,"zero":false},"axis":null},
   "y":{"datum":0.05,"type":"quantitative","scale":{"domain":[-0.0923,0.1303],"range":[123,62],"nice":false,"zero":false},"axis":null},"text":{"field":"label"}}},
 {"data":{"values":[{"edge":"present"}]},"mark":{"type":"rule","color":"#231f20","strokeWidth":1},
  "encoding":{"x":{"datum":0,"type":"quantitative","scale":{"domain":[800,-61],"range":[0,435.9],"nice":false,"zero":false},"axis":null},
   "y":{"datum":-0.0923,"type":"quantitative","scale":{"domain":[-0.0923,0.1303],"range":[123,62],"nice":false,"zero":false},"axis":null},"y2":{"datum":0.2836}}},
 {"data":{"values":[{"edge":"future"}]},"mark":{"type":"rule","color":"#231f20","strokeWidth":1},
  "encoding":{"x":{"datum":0,"type":"quantitative","scale":{"domain":[800,-61],"range":[0,435.9],"nice":false,"zero":false},"axis":null},"x2":{"datum":-61},
   "y":{"datum":-0.0923,"type":"quantitative","scale":{"domain":[-0.0923,0.1303],"range":[123,62],"nice":false,"zero":false},"axis":null}}},
 {"data":{"name":"co2"},"mark":{"type":"line","color":"#2a9a48","strokeWidth":1.4},
  "encoding":{"x":{"field":"age","type":"quantitative","scale":{"domain":[800,0],"range":[0,405],"nice":false,"zero":false},"axis":{"orient":"bottom","values":[800,700,600,500,400,300,200,100,0],"title":"Age (ka)","titleFontSize":12,"titlePadding":6}},
   "y":{"field":"v","type":"quantitative","scale":{"domain":[180,300],"range":[177.4,113.3],"nice":false,"zero":false},"axis":{"orient":"right","values":[200,240,280],"title":"CO₂ (ppm)","titleAngle":270,"titleBaseline":"top"}}}},
 {"data":{"values":[{"label":"(d)"}]},"mark":{"type":"text","fontSize":12,"baseline":"middle","align":"left","color":"#231f20"},
  "encoding":{"x":{"datum":784,"type":"quantitative","scale":{"domain":[800,0],"range":[0,405],"nice":false,"zero":false},"axis":null},
   "y":{"datum":261,"type":"quantitative","scale":{"domain":[180,300],"range":[177.4,113.3],"nice":false,"zero":false},"axis":null},"text":{"field":"label"}}},
 {"data":{"name":"sstBand"},"mark":{"type":"area","color":"#f4a3a3","opacity":1},
  "encoding":{"x":{"field":"age","type":"quantitative","scale":{"domain":[800,0],"range":[0,405],"nice":false,"zero":false},"axis":null},
   "y":{"field":"hi","type":"quantitative","scale":{"domain":[-4.5,1.5],"range":[248.9,181.7],"nice":false,"zero":false},"axis":{"orient":"left","values":[-4,-3,-2,-1,0,1],"domain":false,"title":"Tropical ΔSST (°C)"}},"y2":{"field":"lo"}}},
 {"data":{"name":"sst"},"mark":{"type":"line","color":"#98181d","strokeWidth":1.4},
  "encoding":{"x":{"field":"age","type":"quantitative","scale":{"domain":[800,0],"range":[0,405],"nice":false,"zero":false},"axis":null},
   "y":{"field":"v","type":"quantitative","scale":{"domain":[-4.5,1.5],"range":[248.9,181.7],"nice":false,"zero":false},"axis":null}}},
 {"data":{"values":[{"label":"(e)"}]},"mark":{"type":"text","fontSize":12,"baseline":"middle","align":"left","color":"#231f20"},
  "encoding":{"x":{"datum":784,"type":"quantitative","scale":{"domain":[800,0],"range":[0,405],"nice":false,"zero":false},"axis":null},
   "y":{"datum":0.85,"type":"quantitative","scale":{"domain":[-4.5,1.5],"range":[248.9,181.7],"nice":false,"zero":false},"axis":null},"text":{"field":"label"}}},
 {"data":{"name":"antBand"},"mark":{"type":"area","color":"#b98bc9","opacity":1},
  "encoding":{"x":{"field":"age","type":"quantitative","scale":{"domain":[800,0],"range":[0,405],"nice":false,"zero":false},"axis":null},
   "y":{"field":"hi","type":"quantitative","scale":{"domain":[-8.5,5.5],"range":[305.6,241.5],"nice":false,"zero":false},"axis":{"orient":"right","values":[-8,-4,0,4],"title":"Antarctic ΔT (°C)","titleAngle":270,"titleBaseline":"top"}},"y2":{"field":"lo"}}},
 {"data":{"name":"ant"},"mark":{"type":"line","color":"#6a3f9c","strokeWidth":1.4},
  "encoding":{"x":{"field":"age","type":"quantitative","scale":{"domain":[800,0],"range":[0,405],"nice":false,"zero":false},"axis":null},
   "y":{"field":"v","type":"quantitative","scale":{"domain":[-8.5,5.5],"range":[305.6,241.5],"nice":false,"zero":false},"axis":null}}},
 {"data":{"values":[{"label":"(f)"}]},"mark":{"type":"text","fontSize":12,"baseline":"middle","align":"left","color":"#231f20"},
  "encoding":{"x":{"datum":784,"type":"quantitative","scale":{"domain":[800,0],"range":[0,405],"nice":false,"zero":false},"axis":null},
   "y":{"datum":0.81,"type":"quantitative","scale":{"domain":[-8.5,5.5],"range":[305.6,241.5],"nice":false,"zero":false},"axis":null},"text":{"field":"label"}}},
 {"data":{"name":"d18o"},"mark":{"type":"line","color":"#3db57a","strokeWidth":1.4},
  "encoding":{"x":{"field":"age","type":"quantitative","scale":{"domain":[800,0],"range":[0,405],"nice":false,"zero":false},"axis":null},
   "y":{"field":"v","type":"quantitative","scale":{"domain":[-7.363,7.438],"range":[0,451],"nice":false,"zero":false},"axis":{"orient":"left","values":[3.5,4,4.5,5],"format":".1~f","title":"Benthic δ¹⁸O (‰)","titleY":327}}}},
 {"data":{"values":[{"label":"(g)"}]},"mark":{"type":"text","fontSize":12,"baseline":"middle","align":"left","color":"#231f20"},
  "encoding":{"x":{"datum":784,"type":"quantitative","scale":{"domain":[800,0],"range":[0,405],"nice":false,"zero":false},"axis":null},
   "y":{"datum":3.27,"type":"quantitative","scale":{"domain":[-7.363,7.438],"range":[0,451],"nice":false,"zero":false},"axis":null},"text":{"field":"label"}}},
 {"data":{"name":"slBand"},"mark":{"type":"area","color":"#20bdec","opacity":1},
  "encoding":{"x":{"field":"age","type":"quantitative","scale":{"domain":[800,0],"range":[0,405],"nice":false,"zero":false},"axis":null},
   "y":{"field":"hi","type":"quantitative","scale":{"domain":[-25,125],"range":[385.9,444.9],"nice":false,"zero":false},"axis":{"orient":"right","values":[0,50,100],"title":"Sea level (m)","titleAngle":270,"titleBaseline":"top"}},"y2":{"field":"lo"}}},
 {"data":{"name":"slDash"},"mark":{"type":"line","color":"#5a5fb0","strokeWidth":1,"strokeDash":[3,2]},
  "encoding":{"x":{"field":"age","type":"quantitative","scale":{"domain":[800,0],"range":[0,405],"nice":false,"zero":false},"axis":null},
   "y":{"field":"v","type":"quantitative","scale":{"domain":[-25,125],"range":[385.9,444.9],"nice":false,"zero":false},"axis":null}}},
 {"data":{"name":"sl"},"mark":{"type":"line","color":"#3c48a3","strokeWidth":1.6},
  "encoding":{"x":{"field":"age","type":"quantitative","scale":{"domain":[800,0],"range":[0,405],"nice":false,"zero":false},"axis":null},
   "y":{"field":"v","type":"quantitative","scale":{"domain":[-25,125],"range":[385.9,444.9],"nice":false,"zero":false},"axis":null}}},
 {"data":{"values":[{"label":"(h)"}]},"mark":{"type":"text","fontSize":12,"baseline":"middle","align":"left","color":"#231f20"},
  "encoding":{"x":{"datum":784,"type":"quantitative","scale":{"domain":[800,0],"range":[0,405],"nice":false,"zero":false},"axis":null},
   "y":{"datum":-24.7,"type":"quantitative","scale":{"domain":[-25,125],"range":[385.9,444.9],"nice":false,"zero":false},"axis":null},"text":{"field":"label"}}},
 {"data":{"name":"inset"},"mark":{"type":"area","color":"#a7a9ac","opacity":1},
  "encoding":{"x":{"field":"age","type":"quantitative","scale":{"domain":[20,5],"range":[341,402.7],"nice":false,"zero":false},"axis":{"orient":"bottom","offset":67.3,"values":[20,15,10,5],"title":null}},
   "y":{"field":"hi","type":"quantitative","scale":{"domain":[-1.09,1.5],"range":[518.3,471],"nice":false,"zero":false},"axis":{"orient":"right","offset":-2.3,"values":[-1,0,1],"title":"(°C kyr⁻¹)","titleAngle":270,"titleBaseline":"top"}},"y2":{"field":"lo"}}},
 {"data":{"name":"inset"},"mark":{"type":"line","color":"#231f20","strokeWidth":1.5},
  "encoding":{"x":{"field":"age","type":"quantitative","scale":{"domain":[20,5],"range":[341,402.7],"nice":false,"zero":false},"axis":null},
   "y":{"field":"v","type":"quantitative","scale":{"domain":[-1.09,1.5],"range":[518.3,471],"nice":false,"zero":false},"axis":{"orient":"left","offset":-341,"values":[-1,0,1],"title":"dT/dt"}}}},
 {"data":{"values":[{"edge":"top"}]},"mark":{"type":"rule","color":"#231f20","strokeWidth":1},
  "encoding":{"x":{"datum":20,"type":"quantitative","scale":{"domain":[20,5],"range":[341,402.7],"nice":false,"zero":false},"axis":null},"x2":{"datum":5},
   "y":{"datum":1.5,"type":"quantitative","scale":{"domain":[-1.09,1.5],"range":[518.3,471],"nice":false,"zero":false},"axis":null}}},
 {"data":{"values":[{"edge":"zoom"}]},"mark":{"type":"rule","color":"#231f20","strokeWidth":0.8,"strokeDash":[3,2]},
  "encoding":{"x":{"datum":6.9,"type":"quantitative","scale":{"domain":[20,5],"range":[341,402.7],"nice":false,"zero":false},"axis":null},"x2":{"datum":20},
   "y":{"datum":2.6,"type":"quantitative","scale":{"domain":[-1.09,1.5],"range":[518.3,471],"nice":false,"zero":false},"axis":null},"y2":{"datum":1.5}}},
 {"data":{"values":[{"edge":"zoom"}]},"mark":{"type":"rule","color":"#e0262a","strokeWidth":0.8,"strokeDash":[3,2]},
  "encoding":{"x":{"datum":5,"type":"quantitative","scale":{"domain":[20,5],"range":[341,402.7],"nice":false,"zero":false},"axis":null},
   "y":{"datum":2.6,"type":"quantitative","scale":{"domain":[-1.09,1.5],"range":[518.3,471],"nice":false,"zero":false},"axis":null},"y2":{"datum":1.5}}},
 {"data":{"values":[{"label":"(i)"}]},"mark":{"type":"text","fontSize":12,"baseline":"middle","align":"left","color":"#231f20"},
  "encoding":{"x":{"datum":19,"type":"quantitative","scale":{"domain":[20,5],"range":[341,402.7],"nice":false,"zero":false},"axis":null},
   "y":{"datum":0.9,"type":"quantitative","scale":{"domain":[-1.09,1.5],"range":[518.3,471],"nice":false,"zero":false},"axis":null},"text":{"field":"label"}}},
 {"data":{"name":"captionHead"},"mark":{"type":"text","align":"left","baseline":"middle","font":"Liberation Sans","fontSize":10.5,"fontWeight":"bold","color":"#1f2a44"},
  "encoding":{"x":{"datum":0,"type":"quantitative","scale":{"domain":[0,1],"range":[-167,626],"nice":false,"zero":false},"axis":null},
   "y":{"field":"line","type":"quantitative","scale":{"domain":[1,9],"range":[550,672.4],"nice":false,"zero":false},"axis":null},"text":{"field":"t"}}},
 {"data":{"name":"captionFirst"},"mark":{"type":"text","align":"left","baseline":"middle","font":"Liberation Sans","fontSize":10,"color":"#231f20"},
  "encoding":{"x":{"datum":0.0857,"type":"quantitative","scale":{"domain":[0,1],"range":[-167,626],"nice":false,"zero":false},"axis":null},
   "y":{"field":"line","type":"quantitative","scale":{"domain":[1,9],"range":[550,672.4],"nice":false,"zero":false},"axis":null},"text":{"field":"t"}}},
 {"data":{"name":"caption"},"mark":{"type":"text","align":"left","baseline":"middle","font":"Liberation Sans","fontSize":10,"color":"#231f20"},
  "encoding":{"x":{"datum":0,"type":"quantitative","scale":{"domain":[0,1],"range":[-167,626],"nice":false,"zero":false},"axis":null},
   "y":{"field":"line","type":"quantitative","scale":{"domain":[1,9],"range":[550,672.4],"nice":false,"zero":false},"axis":null},"text":{"field":"t"}}}
],
"resolve":{"scale":{"x":"independent","y":"independent"},"axis":{"x":"independent","y":"independent"}}
}
